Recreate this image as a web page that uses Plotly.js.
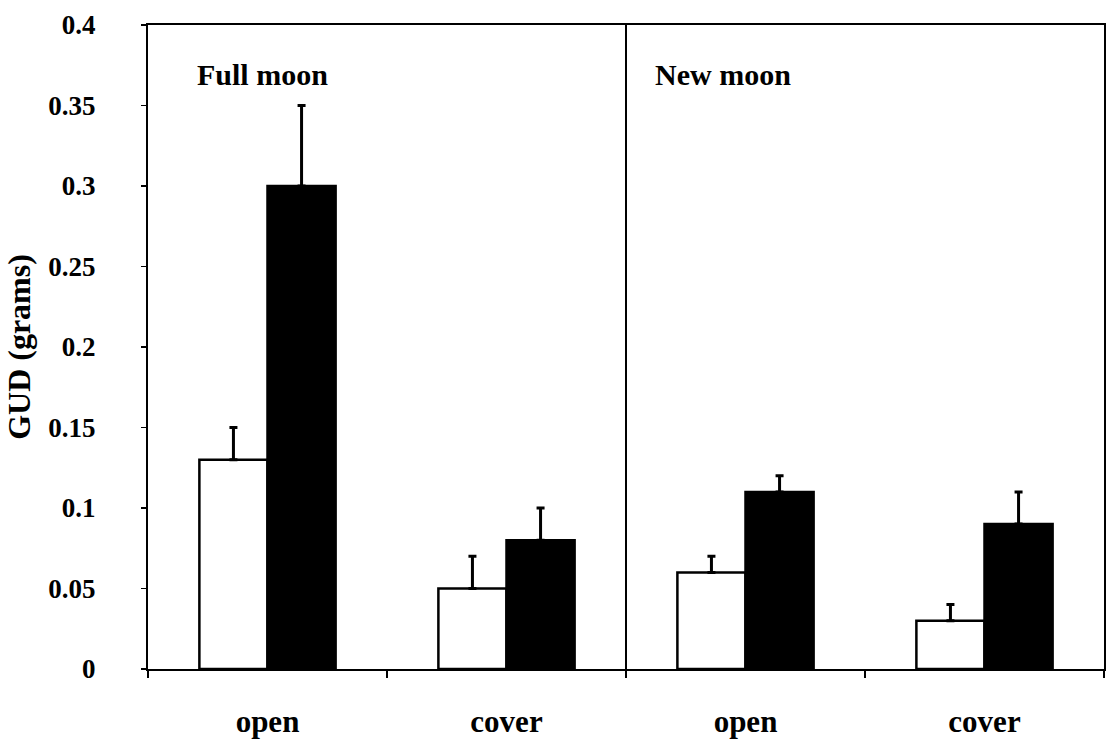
<!DOCTYPE html>
<html><head><meta charset="utf-8">
<script src="https://cdn.plot.ly/plotly-3.0.1.min.js"></script>
<style>html,body{margin:0;padding:0;background:#fff}#chart{width:1112px;height:742px}</style>
</head><body><div id="chart"></div>
<script>
var categories = ["open", "cover", "open", "cover"];
var positions = [0, 1, 2, 3];
var whiteValues = [0.13, 0.05, 0.06, 0.03];
var whiteErrors = [0.02, 0.02, 0.01, 0.01];
var blackValues = [0.30, 0.08, 0.11, 0.09];
var blackErrors = [0.05, 0.02, 0.01, 0.02];
var panelLabels = ["Full moon", "New moon"];
var yTicks = [0, 0.05, 0.1, 0.15, 0.2, 0.25, 0.3, 0.35, 0.4];
var yTickText = ["0", "0.05", "0.1", "0.15", "0.2", "0.25", "0.3", "0.35", "0.4"];

var fontFam = "'Liberation Serif', 'Times New Roman', serif";
var errStyle = {type: 'data', symmetric: false, arrayminus: [0,0,0,0], color: '#000', thickness: 3, width: 4};

var traces = [
  {type: 'bar', x: positions, y: whiteValues, name: 'white',
   marker: {color: '#fff', line: {color: '#000', width: 2.5}},
   error_y: Object.assign({}, errStyle, {array: whiteErrors})},
  {type: 'bar', x: positions, y: blackValues, name: 'black',
   marker: {color: '#000', line: {color: '#000', width: 2.5}},
   error_y: Object.assign({}, errStyle, {array: blackErrors})}
];

var layout = {
  width: 1112, height: 742,
  margin: {l: 148, r: 8, t: 25, b: 73},
  paper_bgcolor: '#fff', plot_bgcolor: '#fff',
  showlegend: false,
  barmode: 'group', bargap: 0.43, bargroupgap: 0,
  font: {family: fontFam, color: '#000'},
  xaxis: {
    range: [-0.5, 3.5], tickmode: 'array', tickvals: positions, ticktext: categories,
    ticks: '', showgrid: false, zeroline: false,
    showline: true, linecolor: '#000', linewidth: 2, mirror: true,
    tickfont: {family: fontFam, size: 31, weight: 'bold', color: '#000'},
    ticklabelstandoff: 24,
    minor: {tickmode: 'linear', tick0: -0.5, dtick: 1, ticks: 'outside', ticklen: 7, tickwidth: 1.5, tickcolor: '#000', showgrid: false}
  },
  yaxis: {
    range: [0, 0.4], tickmode: 'array', tickvals: yTicks, ticktext: yTickText,
    ticks: 'outside', ticklen: 5, tickwidth: 1.5, tickcolor: '#000',
    showgrid: false, zeroline: false,
    showline: true, linecolor: '#000', linewidth: 2, mirror: true,
    tickfont: {family: fontFam, size: 27, weight: 'bold', color: '#000'},
    ticklabelstandoff: 40,
    title: {text: 'GUD (grams)', font: {family: fontFam, size: 32, weight: 'bold', color: '#000'}, standoff: 8}
  },
  shapes: [
    {type: 'line', xref: 'x', yref: 'paper', x0: 1.5, x1: 1.5, y0: 0, y1: 1, line: {color: '#000', width: 2}}
  ],
  annotations: [
    {text: panelLabels[0], xref: 'paper', yref: 'paper', x: 0.049, y: 0.923, xanchor: 'left', yanchor: 'middle', showarrow: false,
     font: {family: fontFam, size: 30, weight: 'bold', color: '#000'}},
    {text: panelLabels[1], xref: 'paper', yref: 'paper', x: 0.528, y: 0.923, xanchor: 'left', yanchor: 'middle', showarrow: false,
     font: {family: fontFam, size: 30, weight: 'bold', color: '#000'}}
  ]
};

Plotly.newPlot('chart', traces, layout, {displayModeBar: false, staticPlot: true});
</script></body></html>
